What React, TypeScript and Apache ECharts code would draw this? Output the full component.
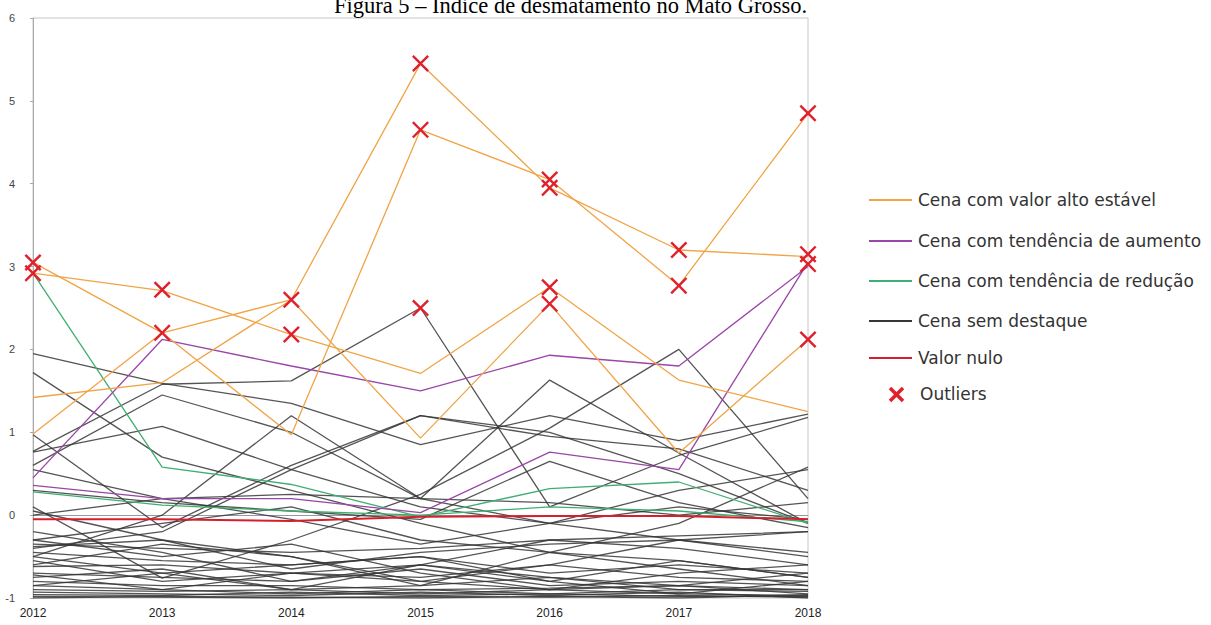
import React, { useEffect, useRef } from "react";
import * as echarts from "echarts";

const years = [2012, 2013, 2014, 2015, 2016, 2017, 2018];
const yTicks = [-1, 0, 1, 2, 3, 4, 5, 6];

const orangeLines = [
  [2.92, 2.71, 2.18, 1.71, 2.75, 1.63, 1.25],
  [3.05, 2.2, 2.6, 5.45, 3.95, 3.2, 3.12],
  [0.98, 2.2, 0.97, 4.65, 4.05, 2.77, 4.85],
  [1.42, 1.6, 2.6, 0.93, 2.55, 0.75, 2.12],
];

const purpleLines = [
  [0.45, 2.12, 1.8, 1.5, 1.93, 1.8, 3.0],
  [0.36, 0.2, 0.2, 0.03, 0.76, 0.55, 3.05],
];

const greenLines = [
  [2.92, 0.58, 0.37, -0.02, 0.32, 0.4, -0.1],
  [0.28, 0.12, 0.05, 0.0, 0.1, 0.05, -0.08],
];

const grayLines = [
  [1.95, 1.59, 1.35, 0.85, 1.2, 0.9, 1.22],
  [1.72, 0.7, 0.3, -0.1, -0.45, -0.65, -0.85],
  [0.77, 1.58, 1.62, 2.5, 0.1, 0.72, 1.18],
  [0.6, 1.45, 1.0, 0.2, 1.63, 0.75, -0.1],
  [0.76, 1.07, 0.55, 0.1, -0.1, -0.3, -0.5],
  [0.97, -0.15, 0.6, 1.2, 0.95, 0.8, 0.3],
  [0.1, -0.76, -0.3, 0.25, 1.05, 2.0, 0.2],
  [-0.5, 0.0, 1.2, 0.2, -0.1, 0.3, 0.55],
  [-0.4, -0.2, 0.55, 1.2, 1.0, 0.5, -0.1],
  [0.3, 0.15, 0.05, -0.05, 0.65, 0.15, -0.15],
  [0.0, 0.2, 0.25, 0.2, 0.15, 0.0, 0.15],
  [-0.3, -0.1, 0.1, -0.3, -0.45, -0.1, 0.58],
  [0.55, 0.2, -0.05, -0.35, -0.1, 0.1, -0.05],
  [-0.35, -0.4, -0.45, -0.4, -0.3, -0.25, -0.2],
  [-0.38, -0.3, -0.65, -0.45, -0.35, -0.3, -0.45],
  [-0.45, -0.55, -0.6, -0.5, -0.7, -0.6, -0.7],
  [-0.55, -0.8, -0.7, -0.6, -0.8, -0.55, -0.75],
  [-0.62, -0.6, -0.7, -0.75, -0.6, -0.75, -0.8],
  [-0.7, -0.75, -0.8, -0.65, -0.85, -0.8, -0.85],
  [-0.75, -0.65, -0.9, -0.85, -0.75, -0.9, -0.9],
  [-0.8, -0.85, -0.85, -0.9, -0.88, -0.85, -0.95],
  [-0.85, -0.9, -0.95, -0.9, -0.95, -0.9, -0.92],
  [-0.9, -0.92, -0.9, -0.95, -0.9, -0.95, -0.97],
  [-0.93, -0.95, -0.97, -0.93, -0.97, -0.93, -1.0],
  [-0.96, -0.97, -0.93, -0.97, -0.95, -0.98, -0.98],
  [-0.98, -0.99, -1.0, -0.98, -0.99, -0.97, -0.99],
  [-1.0, -0.98, -0.99, -1.0, -0.98, -1.0, -0.96],
  [-0.3, -0.5, -0.35, -0.7, -0.9, -0.7, -0.6],
  [-0.6, -0.35, -0.5, -0.85, -0.45, -0.55, -0.75],
  [-0.85, -0.7, -0.6, -0.5, -0.8, -0.95, -0.8],
  [-0.2, -0.45, -0.8, -0.6, -0.3, -0.4, -0.6],
  [0.05, -0.3, -0.5, -0.8, -0.9, -0.85, -0.9],
  [-0.72, -0.9, -0.7, -0.8, -0.6, -0.3, -0.2],
  [-0.5, -0.7, -0.9, -0.6, -0.75, -0.85, -0.7],
];

const nullLine = [-0.05, -0.05, -0.07, -0.02, -0.01, -0.01, -0.05];

const outliers: [number, number][] = [
  [2012, 3.05], [2012, 2.92],
  [2013, 2.72], [2013, 2.2],
  [2014, 2.6], [2014, 2.18],
  [2015, 5.45], [2015, 4.65], [2015, 2.5],
  [2016, 4.05], [2016, 3.95], [2016, 2.75], [2016, 2.55],
  [2017, 3.2], [2017, 2.77],
  [2018, 4.85], [2018, 3.15], [2018, 3.03], [2018, 2.12],
];

const legendNames = [
  "Cena com valor alto estável",
  "Cena com tendência de aumento",
  "Cena com tendência de redução",
  "Cena sem destaque",
  "Valor nulo",
  "Outliers",
];

const ORANGE = "#f0a446";
const PURPLE = "#9a45a8";
const GREEN = "#3fae72";
const GRAY = "#363636";
const RED = "#d4202c";
const XRED = "#e0202c";

const X_PATH =
  "path://M2,0 L10,8 L18,0 L20,2 L12,10 L20,18 L18,20 L10,12 L2,20 L0,18 L8,10 L0,2 Z";

function lineSeries(name: string, values: number[], color: string, width: number, opacity: number, z: number) {
  return {
    type: "line",
    name,
    data: values.map((v, i) => [years[i], v]),
    showSymbol: false,
    symbol: "none",
    lineStyle: { color, width, opacity },
    z,
    silent: true,
  };
}

export default function App() {
  const ref = useRef<HTMLDivElement>(null);
  useEffect(() => {
    if (!ref.current) return;
    const chart = echarts.init(ref.current, undefined, { renderer: "svg" });
    const series: any[] = [];
    grayLines.forEach((l) => series.push(lineSeries(legendNames[3], l, GRAY, 1.3, 0.85, 2)));
    greenLines.forEach((l) => series.push(lineSeries(legendNames[2], l, GREEN, 1.3, 1, 3)));
    purpleLines.forEach((l) => series.push(lineSeries(legendNames[1], l, PURPLE, 1.3, 1, 3)));
    orangeLines.forEach((l) => series.push(lineSeries(legendNames[0], l, ORANGE, 1.3, 1, 3)));
    series.push(lineSeries(legendNames[4], nullLine, RED, 2, 1, 4));
    series.push({
      type: "scatter",
      name: legendNames[5],
      data: outliers,
      symbol: X_PATH,
      symbolSize: 17,
      itemStyle: { color: XRED, opacity: 1 },
      z: 5,
      silent: true,
    });

    const legendRows = [200, 241, 281, 321, 358];
    const legendColors = [ORANGE, PURPLE, GREEN, GRAY, RED];
    const graphics: any[] = [
      {
        type: "text",
        left: 334,
        top: -6,
        style: {
          text: "Figura 5 – Índice de desmatamento no Mato Grosso.",
          font: '22.5px "Liberation Serif"',
          fill: "#000",
        },
      },
    ];
    legendRows.forEach((y, i) => {
      graphics.push({
        type: "line",
        shape: { x1: 869, y1: y, x2: 912, y2: y },
        style: { stroke: legendColors[i], lineWidth: 2 },
      });
      graphics.push({
        type: "text",
        x: 918,
        y,
        style: {
          text: legendNames[i],
          font: '17px "DejaVu Sans"',
          fill: "#333",
          verticalAlign: "middle",
        },
      });
    });
    graphics.push({
      type: "line",
      shape: { x1: 890, y1: 388, x2: 903, y2: 401 },
      style: { stroke: XRED, lineWidth: 3.5 },
    });
    graphics.push({
      type: "line",
      shape: { x1: 903, y1: 388, x2: 890, y2: 401 },
      style: { stroke: XRED, lineWidth: 3.5 },
    });
    graphics.push({
      type: "text",
      x: 920,
      y: 394,
      style: {
        text: legendNames[5],
        font: '17px "DejaVu Sans"',
        fill: "#333",
        verticalAlign: "middle",
      },
    });

    chart.setOption({
      animation: false,
      backgroundColor: "#fff",
      grid: {
        left: 33,
        right: 403,
        top: 18,
        bottom: 27,
        show: true,
        borderColor: "#c8c8c8",
        borderWidth: 1,
        backgroundColor: "transparent",
      },
      xAxis: {
        type: "value",
        min: years[0],
        max: years[years.length - 1],
        interval: 1,
        axisLine: { show: true, lineStyle: { color: "#999" } },
        axisTick: { show: false },
        splitLine: { show: false },
        axisLabel: {
          color: "#222",
          fontSize: 12,
          fontFamily: "Liberation Sans",
          margin: 9,
          formatter: (v: number) => String(v),
        },
      },
      yAxis: {
        type: "value",
        min: yTicks[0],
        max: yTicks[yTicks.length - 1],
        interval: 1,
        axisLine: { show: true, lineStyle: { color: "#aaa" } },
        axisTick: { show: true, length: 3, lineStyle: { color: "#aaa" } },
        splitLine: { show: false },
        axisLabel: {
          color: "#444",
          fontSize: 11,
          fontFamily: "Liberation Sans",
          margin: 18,
        },
      },
      series,
      graphic: graphics,
    });
    return () => chart.dispose();
  }, []);
  return (
    <div
      ref={ref}
      style={{ position: "fixed", left: 0, top: 0, width: 1211, height: 625, background: "#fff" }}
    />
  );
}
